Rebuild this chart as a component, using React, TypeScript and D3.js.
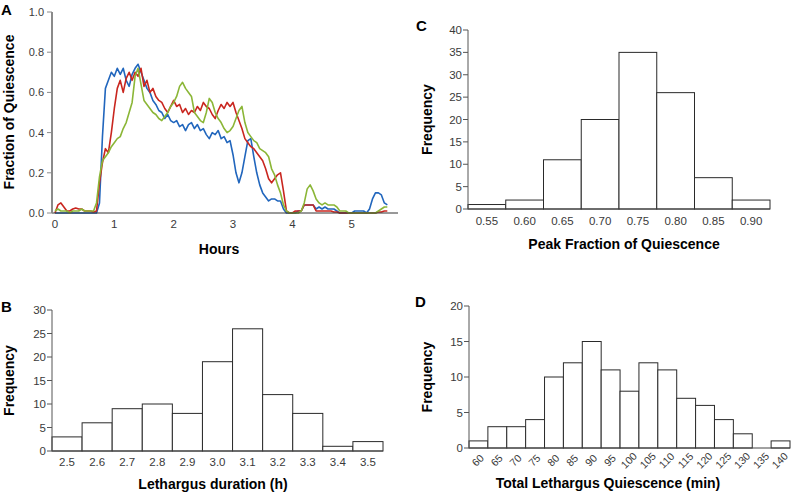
import React from "react";
import * as d3 from "d3";

// ---------- Panel A data (fraction of quiescence, sampled every 0.05 h) ----------
const TIME_STEP = 0.05;
const A_X_TICKS = [0, 1, 2, 3, 4, 5];
const A_Y_TICKS = [0, 0.2, 0.4, 0.6, 0.8, 1.0];
const blueSeries = [
  0, 0, 0, 0, 0, 0, 0, 0, 0, 0,
  0, 0, 0, 0, 0, 0.05, 0.38, 0.62, 0.66, 0.70,
  0.68, 0.72, 0.69, 0.72, 0.66, 0.63, 0.69, 0.72, 0.74, 0.70,
  0.66, 0.62, 0.60, 0.56, 0.54, 0.51, 0.50, 0.47, 0.49, 0.46,
  0.45, 0.46, 0.43, 0.44, 0.41, 0.44, 0.45, 0.42, 0.44, 0.41,
  0.42, 0.39, 0.37, 0.40, 0.39, 0.41, 0.37, 0.38, 0.35, 0.36,
  0.29, 0.20, 0.15, 0.20, 0.28, 0.36, 0.37, 0.28, 0.20, 0.14,
  0.10, 0.08, 0.06, 0.07, 0.07, 0.06, 0.06, 0.02, 0, 0,
  0, 0, 0.01, 0.01, 0.04, 0.04, 0.04, 0.04, 0.02, 0.03,
  0.02, 0.03, 0.02, 0.02, 0.02, 0.01, 0, 0, 0, 0,
  0, 0.01, 0.01, 0.01, 0.01, 0, 0.02, 0.07, 0.10, 0.10,
  0.09, 0.05, 0.04,
];
const redSeries = [
  0, 0.04, 0.05, 0.03, 0.01, 0.01, 0.02, 0.025, 0.02, 0.02,
  0.01, 0.01, 0.01, 0.005, 0.01, 0.15, 0.25, 0.32, 0.30, 0.40,
  0.52, 0.62, 0.66, 0.60, 0.67, 0.70, 0.66, 0.70, 0.68, 0.72,
  0.63, 0.66, 0.60, 0.62, 0.58, 0.56, 0.55, 0.52, 0.50, 0.53,
  0.56, 0.53, 0.54, 0.50, 0.52, 0.49, 0.51, 0.50, 0.53, 0.51,
  0.55, 0.53, 0.52, 0.49, 0.47, 0.51, 0.54, 0.52, 0.55, 0.53,
  0.55, 0.50, 0.46, 0.42, 0.37, 0.35, 0.33, 0.32, 0.30, 0.28,
  0.26, 0.22, 0.17, 0.15, 0.17, 0.19, 0.20, 0.11, 0.01, 0,
  0, 0.01, 0.01, 0.01, 0.04, 0.04, 0.04, 0.04, 0.01, 0.01,
  0.01, 0.01, 0.01, 0.01, 0.005, 0.005, 0, 0, 0, 0,
  0, 0, 0, 0, 0, 0, 0, 0, 0, 0.005,
  0.005, 0.01, 0.01,
];
const greenSeries = [
  0.01, 0.02, 0.01, 0.01, 0.01, 0, 0.01, 0.01, 0.01, 0.02,
  0.01, 0.01, 0.01, 0.01, 0.05, 0.18, 0.26, 0.28, 0.30, 0.33,
  0.35, 0.37, 0.38, 0.42, 0.45, 0.50, 0.55, 0.68, 0.72, 0.64,
  0.56, 0.54, 0.52, 0.50, 0.49, 0.47, 0.46, 0.48, 0.50, 0.53,
  0.55, 0.58, 0.63, 0.65, 0.62, 0.60, 0.58, 0.50, 0.48, 0.46,
  0.45, 0.50, 0.57, 0.55, 0.50, 0.47, 0.45, 0.42, 0.40, 0.41,
  0.43, 0.47, 0.51, 0.53, 0.45, 0.40, 0.38, 0.36, 0.35, 0.32,
  0.31, 0.30, 0.28, 0.22, 0.19, 0.14, 0.10, 0.04, 0.01, 0,
  0, 0, 0, 0.01, 0.05, 0.12, 0.14, 0.11, 0.07, 0.05,
  0.04, 0.05, 0.04, 0.04, 0.04, 0.03, 0.01, 0.01, 0.01, 0,
  0, 0, 0, 0, 0, 0, 0, 0, 0, 0.01,
  0.02, 0.03, 0.03,
];
const A_SERIES = [
  { name: "blue", values: blueSeries, color: "#2166bd" },
  { name: "red", values: redSeries, color: "#c9261f" },
  { name: "green", values: greenSeries, color: "#8bb637" },
];

// ---------- Panel B ----------
const B_BINS = ["2.5", "2.6", "2.7", "2.8", "2.9", "3.0", "3.1", "3.2", "3.3", "3.4", "3.5"];
const B_FREQ = [3, 6, 9, 10, 8, 19, 26, 12, 8, 1, 2];
const B_Y_TICKS = [0, 5, 10, 15, 20, 25, 30];

// ---------- Panel C ----------
const C_BINS = ["0.55", "0.60", "0.65", "0.70", "0.75", "0.80", "0.85", "0.90"];
const C_FREQ = [1, 2, 11, 20, 35, 26, 7, 2];
const C_Y_TICKS = [0, 5, 10, 15, 20, 25, 30, 35, 40];

// ---------- Panel D ----------
const D_BINS = ["60", "65", "70", "75", "80", "85", "90", "95", "100", "105", "110", "115", "120", "125", "130", "135", "140"];
const D_FREQ = [1, 3, 3, 4, 10, 12, 15, 11, 8, 12, 11, 7, 6, 4, 2, 0, 1];
const D_Y_TICKS = [0, 5, 10, 15, 20];

const FONT = "'Liberation Sans', Arial, Helvetica, sans-serif";
const TICK_COLOR = "#3a3a3a";

function PanelA() {
  const x = d3.scaleLinear().domain([-0.05, 5.78]).range([52, 398]);
  const y = d3.scaleLinear().domain([0, 1]).range([213, 12]);
  const line = d3
    .line<number>()
    .x((_, i) => x(i * TIME_STEP))
    .y((d) => y(d));
  return (
    <g>
      <text x={1} y={15} fontSize={15} fontWeight="bold" fontFamily={FONT}>A</text>
      {A_SERIES.map((s) => (
        <path key={s.name} d={line(s.values) || ""} fill="none" stroke={s.color} strokeWidth={1.6} strokeLinejoin="round" />
      ))}
      <line x1={52} x2={398} y1={y(0)} y2={y(0)} stroke="#333" strokeWidth={1} />
      <line x1={52} x2={52} y1={y(1)} y2={y(0)} stroke="#8a8a8a" strokeWidth={2} />
      {A_Y_TICKS.map((t) => (
        <g key={t}>
          <line x1={47} x2={52} y1={y(t)} y2={y(t)} stroke="#8a8a8a" strokeWidth={1} />
          <text x={44} y={y(t) + 4} textAnchor="end" fontSize={11} fill={TICK_COLOR} fontFamily={FONT}>
            {t.toFixed(1)}
          </text>
        </g>
      ))}
      {A_X_TICKS.map((t) => (
        <text key={t} x={x(t)} y={228} textAnchor="middle" fontSize={11.5} fill={TICK_COLOR} fontFamily={FONT}>
          {t}
        </text>
      ))}
      <text x={219} y={254} textAnchor="middle" fontSize={14} fontWeight="bold" fontFamily={FONT}>Hours</text>
      <text transform={`translate(14,${112}) rotate(-90)`} textAnchor="middle" fontSize={14} fontWeight="bold" fontFamily={FONT}>
        Fraction of Quiescence
      </text>
    </g>
  );
}

type HistProps = {
  bins: string[];
  freq: number[];
  yTicks: number[];
  left: number;
  right: number;
  top: number;
  bottom: number;
  letter: string;
  letterX: number;
  letterY: number;
  title: string;
  titleX: number;
  titleY: number;
  ylabX: number;
  rotated?: boolean;
  xLabelY: number;
};

function Histogram(p: HistProps) {
  const x = d3.scaleBand<string>().domain(p.bins).range([p.left, p.right]).paddingInner(0).paddingOuter(0);
  const yMax = p.yTicks[p.yTicks.length - 1];
  const y = d3.scaleLinear().domain([0, yMax]).range([p.bottom, p.top]);
  const midY = (p.top + p.bottom) / 2;
  return (
    <g>
      <text x={p.letterX} y={p.letterY} fontSize={15} fontWeight="bold" fontFamily={FONT}>{p.letter}</text>
      {p.bins.map((b, i) =>
        p.freq[i] > 0 ? (
          <rect
            key={b}
            x={x(b)}
            y={y(p.freq[i])}
            width={x.bandwidth()}
            height={y(0) - y(p.freq[i])}
            fill="#fff"
            stroke="#2a2a2a"
            strokeWidth={1}
          />
        ) : null
      )}
      <line x1={p.left} x2={p.right} y1={y(0)} y2={y(0)} stroke="#444" strokeWidth={1} />
      <line x1={p.left} x2={p.left} y1={y(yMax)} y2={y(0)} stroke="#555" strokeWidth={1} />
      {p.yTicks.map((t) => (
        <g key={t}>
          <line x1={p.left - 5} x2={p.left} y1={y(t)} y2={y(t)} stroke="#555" strokeWidth={1} />
          <text x={p.left - 6} y={y(t) + 4} textAnchor="end" fontSize={11.5} fill={TICK_COLOR} fontFamily={FONT}>
            {t}
          </text>
        </g>
      ))}
      {p.bins.map((b) => {
        const cx = (x(b) as number) + x.bandwidth() / 2;
        return p.rotated ? (
          <text
            key={b}
            transform={`translate(${cx},${p.xLabelY}) rotate(-45)`}
            textAnchor="middle"
            dominantBaseline="middle"
            fontSize={10.5}
            fill={TICK_COLOR}
            fontFamily={FONT}
          >
            {b}
          </text>
        ) : (
          <text key={b} x={cx} y={p.xLabelY} textAnchor="middle" fontSize={11.5} fill={TICK_COLOR} fontFamily={FONT}>
            {b}
          </text>
        );
      })}
      <text x={p.titleX} y={p.titleY} textAnchor="middle" fontSize={14} fontWeight="bold" fontFamily={FONT}>{p.title}</text>
      <text transform={`translate(${p.ylabX},${midY}) rotate(-90)`} textAnchor="middle" fontSize={14} fontWeight="bold" fontFamily={FONT}>
        Frequency
      </text>
    </g>
  );
}

export default function App() {
  return (
    <svg width={791} height={493} style={{ position: "absolute", left: 0, top: 0, background: "#fff" }}>
      <rect width={791} height={493} fill="#fff" />
      <PanelA />
      <Histogram
        bins={B_BINS}
        freq={B_FREQ}
        yTicks={B_Y_TICKS}
        left={52}
        right={383}
        top={310}
        bottom={451}
        letter="B"
        letterX={1}
        letterY={312}
        title="Lethargus duration (h)"
        titleX={213}
        titleY={489}
        ylabX={14}
        xLabelY={466}
      />
      <Histogram
        bins={C_BINS}
        freq={C_FREQ}
        yTicks={C_Y_TICKS}
        left={468}
        right={770}
        top={30}
        bottom={209}
        letter="C"
        letterX={416}
        letterY={31}
        title="Peak Fraction of Quiescence"
        titleX={624}
        titleY={249}
        ylabX={432}
        xLabelY={225}
      />
      <Histogram
        bins={D_BINS}
        freq={D_FREQ}
        yTicks={D_Y_TICKS}
        left={469}
        right={790}
        top={306}
        bottom={448}
        letter="D"
        letterX={415}
        letterY={307}
        title="Total Lethargus Quiescence (min)"
        titleX={608}
        titleY={488}
        ylabX={432}
        rotated
        xLabelY={461}
      />
    </svg>
  );
}
